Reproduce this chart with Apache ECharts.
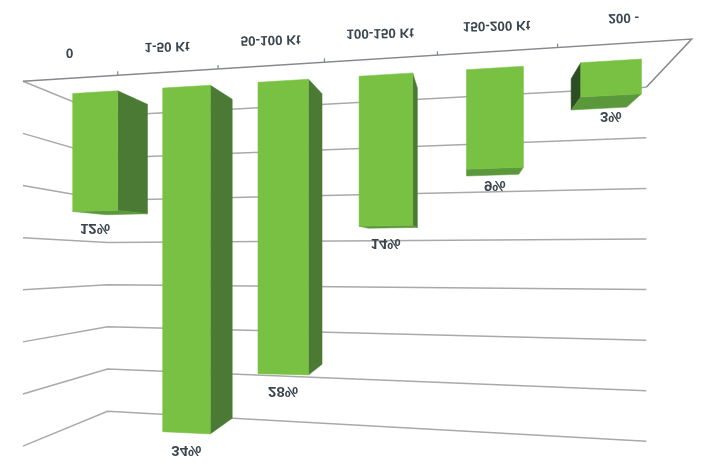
<!DOCTYPE html>
<html><head><meta charset="utf-8">
<style>html,body{margin:0;padding:0;background:#fff}#c{width:704px;height:471px;filter:blur(.6px)}</style>
<script src="https://cdn.jsdelivr.net/npm/echarts@6/dist/echarts.min.js"></script>
</head><body><div id="c"></div>
<script>
var categories = ['0','1-50 Kt','50-100 Kt','100-150 Kt','150-200 Kt','200 -'];
var shares = [12,34,28,14,9,3];
var gridValues = [0,5,10,15,20,25,30,35];

var VP = [468,250], BAR_DEPTH = 0.915, WALL_BACK = 0.865, WALL_NEAR = 1.068, HALF = 0.2535;
var NEAR_L = [0,-3], NEAR_R = [6,-5], BACK_R = [2,4];
var FONT = '"Liberation Sans", sans-serif';
var C = {front:'#79c143', right:'#4a7a33', left:'#2d4d24', bottom:'#5b983b', grid:'#a9a9a9', axis:'#85888c', text:'#3b464e'};

// flat chart pixel -> perspective picture
function persp(p){
  var i=(p[0]-73)/100, D=1-0.02775*i;
  return [(73+85.5*i)/D, (p[1]-7.9*i)/D];
}
function toward(p,k){ return [VP[0]+(p[0]-VP[0])*k, VP[1]+(p[1]-VP[1])*k]; }
function P(api,x,v,k,shift){
  var q=persp(api.coord([x,v])); if(k!==undefined) q=toward(q,k);
  return shift?[q[0]+shift[0],q[1]+shift[1]]:q;
}
function poly(pts,fill){ return {type:'polygon',shape:{points:pts},style:{fill:fill,stroke:fill,lineWidth:.5}}; }
function line(pts,col,w){ return {type:'polyline',shape:{points:pts},style:{fill:null,stroke:col,lineWidth:w}}; }
function flipped(p,text,size,rot,col){
  return {type:'text',x:p[0],y:p[1],rotation:rot,scaleY:-1,
    style:{text:text,x:0,y:0,align:'center',verticalAlign:'middle',fill:col,font:'bold '+size+'px '+FONT}};
}
var L=-0.5, R=5.5;

var option = {
  animation:false, backgroundColor:'#fff',
  grid:{left:48,width:600,top:93.5,height:344},
  xAxis:{type:'value',min:L,max:R,interval:1,show:false},
  yAxis:{type:'value',min:0,max:35,interval:5,inverse:true,show:false},
  series:[
   {type:'custom',coordinateSystem:'cartesian2d',silent:true,z:1,clip:false,
    data:gridValues.map(function(v){return [0,v];}),
    renderItem:function(params,api){
      var v=api.value(1);
      return {type:'group',children:[
        line([P(api,L,v,WALL_NEAR,NEAR_L),P(api,L,v,WALL_BACK),P(api,R,v,WALL_BACK,BACK_R)],C.grid,1.5)
      ]};
    }},
   {type:'custom',coordinateSystem:'cartesian2d',silent:true,z:2,clip:false,
    data:categories.map(function(c,i){return [i,0];}),
    renderItem:function(params,api){
      var x=api.value(0), kids=[];
      var a=P(api,L,0,WALL_NEAR,NEAR_L), b=P(api,R,0,WALL_NEAR,NEAR_R);
      function onAxis(px){ return a[1]+(b[1]-a[1])*(px-a[0])/(b[0]-a[0]); }
      if(params.dataIndex===0){
        kids.push(line([a,b,P(api,R,0,WALL_BACK,BACK_R)],C.axis,1.5));
      }
      if(x<categories.length-1){
        var tx=P(api,x+0.5,0,WALL_NEAR)[0], ty=onAxis(tx);
        kids.push(line([[tx,ty],[tx,ty-4]],C.axis,1.2));
      }
      var lx=P(api,x,0,WALL_NEAR)[0];
      kids.push(flipped([lx+(x===5?3:0),onAxis(lx)-26],categories[x],13.5,0.02,C.text));
      return {type:'group',children:kids};
    }},
   {type:'custom',coordinateSystem:'cartesian2d',silent:true,z:3,clip:false,
    data:shares.map(function(s,i){return [i,s];}),
    renderItem:function(params,api){
      var x=api.value(0), v=api.value(1), kids=[];
      var tl=P(api,x-HALF,0), tr=P(api,x+HALF,0), bl=P(api,x-HALF,v), br=P(api,x+HALF,v);
      var tlb=toward(tl,BAR_DEPTH), trb=toward(tr,BAR_DEPTH), blb=toward(bl,BAR_DEPTH), brb=toward(br,BAR_DEPTH);
      if(tr[0]<VP[0]) kids.push(poly([tr,trb,brb,br],C.right));
      if(tl[0]>VP[0]) kids.push(poly([tl,tlb,blb,bl],C.left));
      if(bl[1]<VP[1]) kids.push(poly([bl,br,brb,blb],C.bottom));
      kids.push(poly([tl,tr,br,bl],C.front));
      var c=P(api,x,v);
      kids.push(flipped([c[0],c[1]+(v<5?21:17)],v+'%',15,0,C.text));
      return {type:'group',children:kids};
    }}
  ]
};
echarts.init(document.getElementById('c'),null,{renderer:'canvas'}).setOption(option);
</script></body></html>
